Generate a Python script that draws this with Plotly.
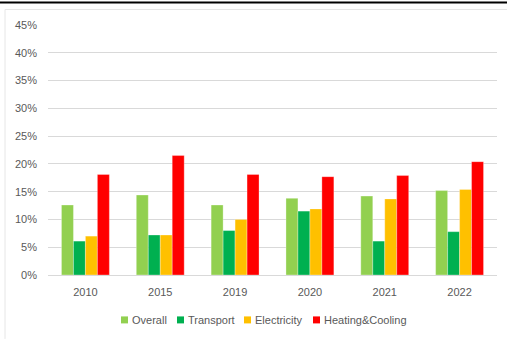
import plotly.graph_objects as go

years = ["2010", "2015", "2019", "2020", "2021", "2022"]
overall = [0.126, 0.144, 0.126, 0.138, 0.142, 0.152]
transport = [0.061, 0.072, 0.080, 0.115, 0.061, 0.078]
electricity = [0.070, 0.072, 0.100, 0.119, 0.137, 0.154]
heating = [0.181, 0.215, 0.181, 0.177, 0.179, 0.204]

series = [
    ("Overall", overall, "#92D050"),
    ("Transport", transport, "#00B050"),
    ("Electricity", electricity, "#FFC000"),
    ("Heating&Cooling", heating, "#FF0000"),
]

W, H = 507, 339
L, R, T, B = 48, 10, 24.5, 64
pw, ph = W - L - R, H - T - B

def px(x):
    return (x - L) / pw

def py(y):
    return 1 - (y - T) / ph

fig = go.Figure()
for name, vals, col in series:
    fig.add_trace(go.Bar(
        x=years, y=vals, name=name, showlegend=False,
        marker=dict(color=col, line=dict(color="rgba(255,255,255,0.5)", width=0.6)),
    ))

shapes = [
    dict(type="line", xref="paper", yref="paper", x0=px(0), x1=px(W), y0=py(2), y1=py(2),
         line=dict(color="black", width=2)),
    dict(type="line", xref="paper", yref="paper", x0=px(5), x1=px(W), y0=py(9), y1=py(9),
         line=dict(color="#E6E6E6", width=1)),
    dict(type="line", xref="paper", yref="paper", x0=px(5), x1=px(5), y0=py(9), y1=py(H),
         line=dict(color="#E6E6E6", width=1)),
]
annotations = []

# custom legend (Excel style: small square + label)
legend_x = [121, 177, 244, 313]
legend_y = 320
for (name, _, col), lx in zip(series, legend_x):
    shapes.append(dict(type="rect", xref="paper", yref="paper",
                       x0=px(lx), x1=px(lx + 7), y0=py(legend_y + 3.5), y1=py(legend_y - 3.5),
                       fillcolor=col, line=dict(width=0)))
    annotations.append(dict(xref="paper", yref="paper", x=px(lx + 9), y=py(legend_y),
                            xanchor="left", yanchor="middle", showarrow=False, text=name,
                            font=dict(size=11, color="#595959")))

fig.update_layout(
    width=W, height=H,
    margin=dict(l=L, r=R, t=T, b=B, autoexpand=False),
    paper_bgcolor="white", plot_bgcolor="white",
    barmode="group", bargap=0.36, bargroupgap=0,
    font=dict(family="Liberation Sans, Arial, sans-serif", size=11, color="#595959"),
    showlegend=False,
    xaxis=dict(showgrid=False, showline=True, linecolor="#D9D9D9", linewidth=1,
               ticks="", ticklabelstandoff=7, tickfont=dict(size=11, color="#595959"),
               automargin=False),
    yaxis=dict(range=[0, 0.45], dtick=0.05, tickformat=".0%", showgrid=True,
               gridcolor="#D9D9D9", gridwidth=1, zeroline=False, showline=False,
               ticks="", ticklabelstandoff=10, automargin=False,
               tickfont=dict(size=11, color="#595959")),
    shapes=shapes,
    annotations=annotations,
)

fig.write_html("out.html")
